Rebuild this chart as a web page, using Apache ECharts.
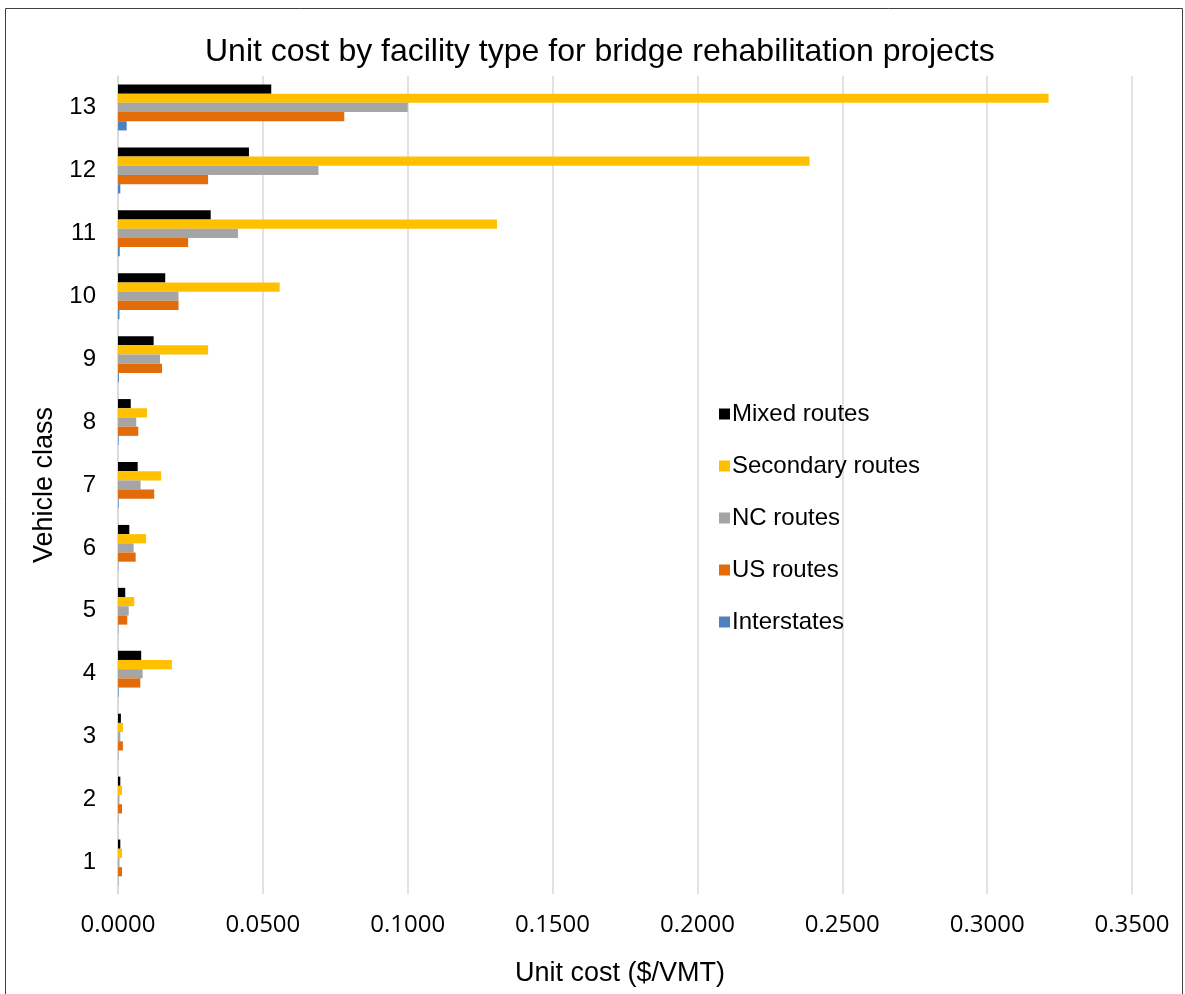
<!DOCTYPE html>
<html>
<head>
<meta charset="utf-8">
<script src="https://cdn.jsdelivr.net/npm/echarts@6/dist/echarts.min.js"></script>
<style>html,body{margin:0;padding:0;background:#fff}#c{width:1185px;height:994px}</style>
</head>
<body>
<div id="c"></div>
<script>
const categories = ['1','2','3','4','5','6','7','8','9','10','11','12','13'];
const xTicks = [0, 0.05, 0.1, 0.15, 0.2, 0.25, 0.3, 0.35];
const mixedRoutes     = [0.0008, 0.0008, 0.0010, 0.0080, 0.0025, 0.0039, 0.0068, 0.0044, 0.0123, 0.0163, 0.0320, 0.0452, 0.0529];
const secondaryRoutes = [0.0014, 0.0014, 0.0017, 0.0186, 0.0056, 0.0097, 0.0149, 0.0100, 0.0311, 0.0558, 0.1308, 0.2387, 0.3212];
const ncRoutes        = [0.0005, 0.0005, 0.0008, 0.0085, 0.0037, 0.0054, 0.0078, 0.0063, 0.0145, 0.0209, 0.0414, 0.0692, 0.1000];
const usRoutes        = [0.0014, 0.0014, 0.0017, 0.0077, 0.0032, 0.0061, 0.0125, 0.0070, 0.0152, 0.0209, 0.0242, 0.0311, 0.0781];
const interstates     = [0.0001, 0.0001, 0.0001, 0.0002, 0.0001, 0.0001, 0.0002, 0.0002, 0.0003, 0.0005, 0.0006, 0.0008, 0.0030];

const font = "'Liberation Sans', Arial, sans-serif";
const tickFont = "'Open Sans', 'Noto Sans', sans-serif";
const chart = echarts.init(document.getElementById('c'));
const mk = (name, data, color) => ({
  name, type: 'bar', data, barWidth: 9.2, barGap: '0%',
  itemStyle: { color }
});
chart.setOption({
  animation: false,
  backgroundColor: '#fff',
  textStyle: { fontFamily: font },
  title: {
    text: 'Unit cost by facility type for bridge rehabilitation projects',
    left: 200, top: 31, padding: 5,
    textStyle: { fontFamily: font, fontSize: 32, fontWeight: 'normal', color: '#000' }
  },
  graphic: [{
    type: 'rect', shape: { x: 5.5, y: 8.5, width: 1177, height: 1000 },
    style: { fill: 'none', stroke: '#404040', lineWidth: 1 }, silent: true
  }],
  legend: {
    orient: 'vertical', left: 714, top: 397, itemGap: 28,
    itemWidth: 11, itemHeight: 11, icon: 'rect',
    data: ['Mixed routes', 'Secondary routes', 'NC routes', 'US routes', 'Interstates'],
    textStyle: { fontFamily: font, fontSize: 24, color: '#000', padding: [0, 0, 0, -3] }
  },
  grid: { left: 118, right: 53, top: 76, bottom: 100 },
  xAxis: {
    type: 'value', min: 0, max: 0.35, interval: 0.05,
    name: 'Unit cost ($/VMT)', nameLocation: 'middle', nameGap: 66,
    nameTextStyle: { fontFamily: font, fontSize: 27, color: '#000', padding: [0, 10, 0, 0] },
    axisLine: { show: false }, axisTick: { show: false },
    axisLabel: {
      fontFamily: tickFont, fontSize: 24, color: '#000', margin: 19,
      formatter: v => { const t = xTicks.find(x => Math.abs(x - v) < 1e-9); return (t !== undefined ? t : v).toFixed(4); }
    },
    splitLine: { lineStyle: { color: '#d9d9d9', width: 1.5 } }
  },
  yAxis: {
    type: 'category', data: categories,
    name: 'Vehicle class', nameLocation: 'middle', nameGap: 57,
    nameTextStyle: { fontFamily: font, fontSize: 27, color: '#000' },
    axisLine: { show: true, lineStyle: { color: '#d9d9d9', width: 1.5 } },
    axisTick: { show: false },
    axisLabel: { fontFamily: font, fontSize: 24, color: '#000', margin: 22 }
  },
  series: [
    mk('Mixed routes', mixedRoutes, '#000000'),
    mk('Secondary routes', secondaryRoutes, '#FFC000'),
    mk('NC routes', ncRoutes, '#A5A5A5'),
    mk('US routes', usRoutes, '#E36C0A'),
    mk('Interstates', interstates, '#4F81BD')
  ]
});
</script>
</body>
</html>
